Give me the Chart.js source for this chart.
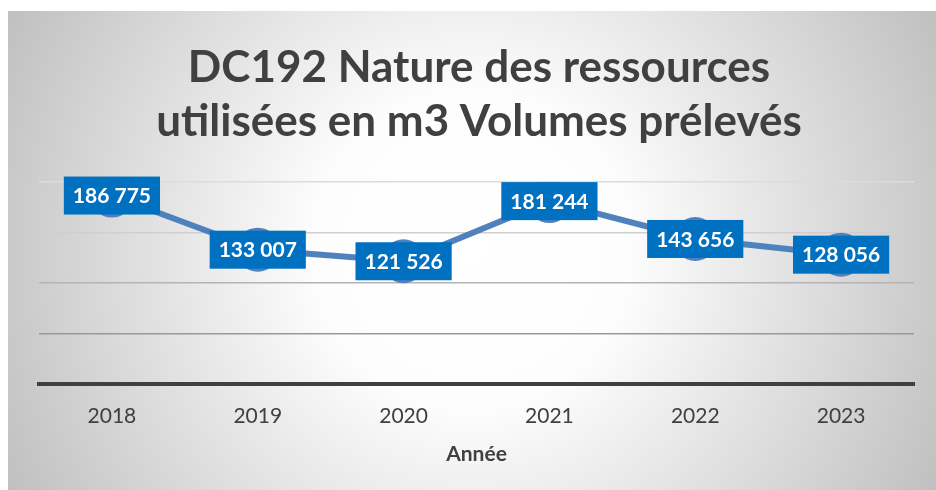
<!DOCTYPE html>
<html lang="fr">
<head>
<meta charset="utf-8">
<title>DC192 Nature des ressources</title>
<script src="https://cdn.jsdelivr.net/npm/chart.js@4/dist/chart.umd.min.js"></script>
<style>
  html, body { margin: 0; padding: 0; background: #fff; }
  #wrap { position: absolute; left: 8px; top: 11px; width: 928px; height: 479px; }
</style>
</head>
<body>
<div id="wrap"><canvas id="volChart"></canvas></div>
<script>
// Chart data
const years = ['2018', '2019', '2020', '2021', '2022', '2023'];
const volumes = [186775, 133007, 121526, 181244, 143656, 128056];
const titleLines = ['DC192 Nature des ressources', 'utilisées en m3 Volumes prélevés'];
const xTitle = 'Année';

const FONT = 'Lato, "Open Sans", sans-serif';

// French style thousands: 186 775
function formatVolume(v) {
  return String(v).replace(/\B(?=(\d{3})+(?!\d))/g, ' ');
}

// Radial grey background like the Excel chart area
const backgroundPlugin = {
  id: 'radialBackground',
  beforeDraw(chart) {
    const { ctx, width, height } = chart;
    const g = ctx.createRadialGradient(width / 2, height / 2, 0, width / 2, height / 2, 520);
    g.addColorStop(0, '#ffffff');
    g.addColorStop(0.3, '#fdfdfd');
    g.addColorStop(1, '#c0c0c0');
    ctx.save();
    ctx.fillStyle = g;
    ctx.fillRect(0, 0, width, height);
    ctx.restore();
  }
};

// Boxed value labels on each point
const valueLabelPlugin = {
  id: 'valueLabels',
  afterDatasetsDraw(chart) {
    const { ctx } = chart;
    const meta = chart.getDatasetMeta(0);
    ctx.save();
    ctx.font = 'bold 21px ' + FONT;
    ctx.textAlign = 'center';
    ctx.textBaseline = 'middle';
    meta.data.forEach((pt, i) => {
      const text = formatVolume(volumes[i]);
      const w = ctx.measureText(text).width + 18;
      const h = 38;
      ctx.fillStyle = '#0070c0';
      ctx.fillRect(pt.x - w / 2, pt.y - h / 2, w, h);
      ctx.fillStyle = '#ffffff';
      ctx.fillText(text, pt.x, pt.y + 1);
    });
    ctx.restore();
  }
};

const gridColors = { 0: 'rgba(0,0,0,0)', 50000: '#999999', 100000: '#b4b4b4', 150000: '#cfcfcf', 200000: '#dcdcdc' };

new Chart(document.getElementById('volChart'), {
  type: 'line',
  data: {
    labels: years,
    datasets: [{
      data: volumes,
      borderColor: '#4f81bd',
      backgroundColor: '#4f81bd',
      borderWidth: 6,
      pointRadius: 22,
      pointBorderWidth: 0,
      pointBackgroundColor: '#4f81bd',
      tension: 0
    }]
  },
  options: {
    responsive: true,
    maintainAspectRatio: false,
    animation: false,
    layout: { padding: { left: 31, right: 17, top: 0, bottom: 0 } },
    plugins: {
      legend: { display: false },
      tooltip: { enabled: false },
      title: {
        display: true,
        text: titleLines,
        color: '#404040',
        font: { family: FONT, size: 44, weight: 'bold', lineHeight: 1.23 },
        padding: { top: 30, bottom: 33 }
      }
    },
    scales: {
      x: {
        offset: true,
        grid: { display: false, drawTicks: false },
        border: { display: true, color: '#404040', width: 4 },
        ticks: { color: '#404040', font: { family: FONT, size: 21 }, padding: 20 },
        title: {
          display: true,
          text: xTitle,
          color: '#404040',
          font: { family: FONT, size: 21, weight: 'bold' },
          // ticks padding is counted twice in the axis height, so pull the title back up
          padding: { top: -7, bottom: 23 }
        }
      },
      y: {
        min: 0,
        max: 200000,
        ticks: { display: false, stepSize: 50000 },
        border: { display: false },
        grid: {
          drawTicks: false,
          lineWidth: 1.5,
          color: ctx => gridColors[ctx.tick.value] || '#cccccc'
        }
      }
    }
  },
  plugins: [backgroundPlugin, valueLabelPlugin]
});
</script>
</body>
</html>
